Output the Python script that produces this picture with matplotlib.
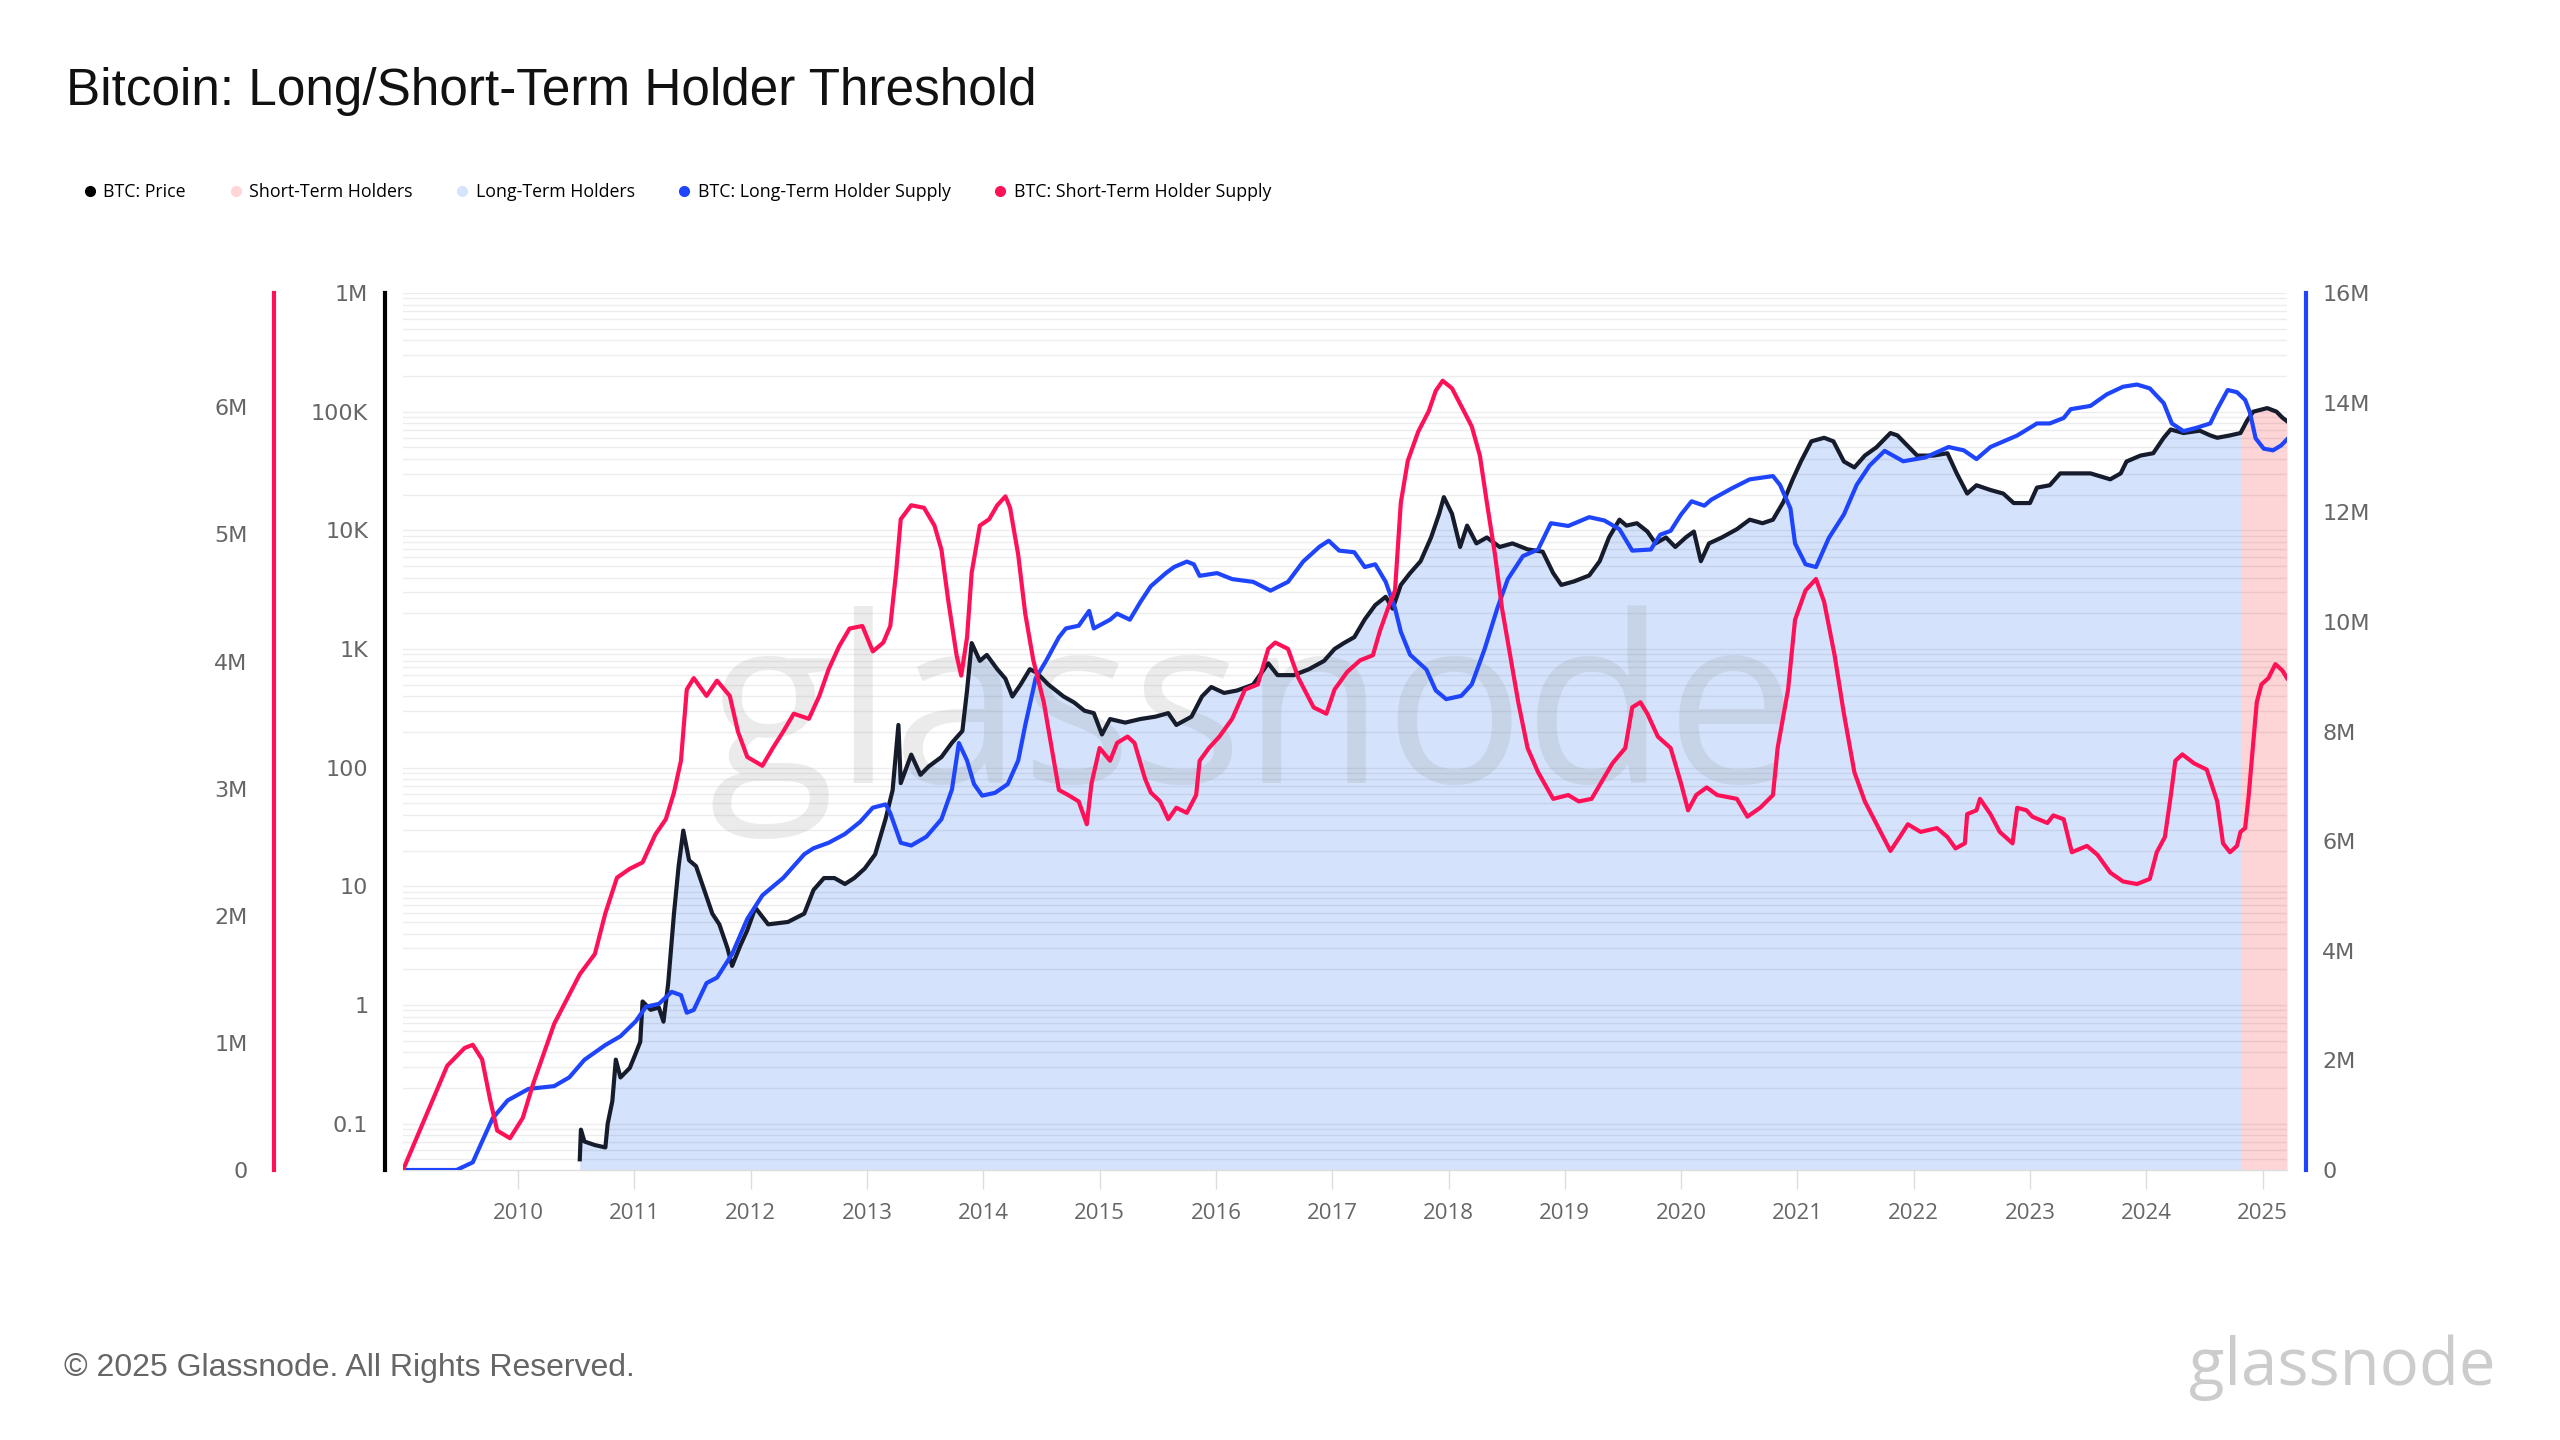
import numpy as np
from matplotlib import pyplot as plt
from matplotlib.lines import Line2D
from matplotlib.ticker import FixedLocator, LogLocator, NullFormatter

# ---- data (decimal years) ----
price_years = [
    2010.53, 2010.54, 2010.57, 2010.66, 2010.75, 2010.77, 2010.81, 2010.84, 2010.88, 2010.96,
    2011.01, 2011.05, 2011.07, 2011.14, 2011.21, 2011.25, 2011.29, 2011.34, 2011.38, 2011.42,
    2011.47, 2011.53, 2011.60, 2011.67, 2011.73, 2011.80, 2011.84, 2011.91, 2011.97, 2012.04,
    2012.15, 2012.32, 2012.46, 2012.54, 2012.63, 2012.72, 2012.81, 2012.89, 2012.98, 2013.07,
    2013.16, 2013.22, 2013.27, 2013.29, 2013.38, 2013.46, 2013.53, 2013.64, 2013.73, 2013.82,
    2013.86, 2013.90, 2013.97, 2014.03, 2014.12, 2014.19, 2014.25, 2014.32, 2014.40, 2014.46,
    2014.56, 2014.69, 2014.78, 2014.87, 2014.95, 2015.02, 2015.09, 2015.22, 2015.35, 2015.48,
    2015.59, 2015.66, 2015.79, 2015.88, 2015.96, 2016.07, 2016.18, 2016.32, 2016.45, 2016.53,
    2016.67, 2016.80, 2016.93, 2017.02, 2017.10, 2017.19, 2017.28, 2017.37, 2017.46, 2017.52,
    2017.59, 2017.67, 2017.76, 2017.85, 2017.92, 2017.96, 2018.03, 2018.10, 2018.16, 2018.24,
    2018.33, 2018.44, 2018.55, 2018.68, 2018.81, 2018.90, 2018.97, 2019.08, 2019.21, 2019.30,
    2019.38, 2019.47, 2019.53, 2019.62, 2019.71, 2019.78, 2019.87, 2019.95, 2020.04, 2020.11,
    2020.17, 2020.24, 2020.35, 2020.48, 2020.59, 2020.70, 2020.79, 2020.88, 2020.96, 2021.03,
    2021.12, 2021.23, 2021.31, 2021.40, 2021.49, 2021.58, 2021.68, 2021.80, 2021.86, 2021.96,
    2022.03, 2022.17, 2022.29, 2022.37, 2022.46, 2022.54, 2022.66, 2022.77, 2022.86, 2023.00,
    2023.06, 2023.17, 2023.26, 2023.40, 2023.52, 2023.69, 2023.78, 2023.83, 2023.95, 2024.06,
    2024.15, 2024.21, 2024.32, 2024.46, 2024.55, 2024.61, 2024.72, 2024.81, 2024.87, 2024.92,
    2025.04, 2025.12, 2025.17, 2025.21,
]
price_log = [
    -1.30, -1.05, -1.15, -1.18, -1.20, -1.00, -0.81, -0.46, -0.61, -0.53,
    -0.41, -0.31, 0.03, -0.04, -0.02, -0.14, 0.18, 0.77, 1.17, 1.47,
    1.22, 1.17, 0.97, 0.77, 0.68, 0.48, 0.33, 0.50, 0.63, 0.82,
    0.68, 0.70, 0.77, 0.97, 1.07, 1.07, 1.02, 1.07, 1.15, 1.27,
    1.57, 1.81, 2.36, 1.87, 2.11, 1.94, 2.01, 2.09, 2.21, 2.31,
    2.65, 3.05, 2.90, 2.95, 2.83, 2.75, 2.60, 2.70, 2.83, 2.80,
    2.70, 2.60, 2.55, 2.48, 2.46, 2.28, 2.41, 2.38, 2.41, 2.43,
    2.46, 2.36, 2.43, 2.60, 2.68, 2.63, 2.65, 2.70, 2.88, 2.78,
    2.78, 2.83, 2.90, 3.00, 3.05, 3.10, 3.25, 3.37, 3.44, 3.34,
    3.54, 3.64, 3.74, 3.94, 4.14, 4.28, 4.14, 3.86, 4.04, 3.89,
    3.94, 3.86, 3.89, 3.84, 3.82, 3.64, 3.54, 3.57, 3.62, 3.74,
    3.94, 4.09, 4.04, 4.06, 3.99, 3.89, 3.94, 3.86, 3.94, 3.99,
    3.74, 3.89, 3.94, 4.01, 4.09, 4.06, 4.09, 4.24, 4.43, 4.58,
    4.75, 4.78, 4.75, 4.58, 4.53, 4.63, 4.70, 4.82, 4.80, 4.70,
    4.63, 4.63, 4.65, 4.48, 4.31, 4.38, 4.34, 4.31, 4.23, 4.23,
    4.36, 4.38, 4.48, 4.48, 4.48, 4.43, 4.48, 4.58, 4.63, 4.65,
    4.78, 4.85, 4.82, 4.84, 4.80, 4.78, 4.80, 4.82, 4.93, 5.00,
    5.03, 5.00, 4.95, 4.92,
]

lth_years = [
    2009.01, 2009.47, 2009.61, 2009.69, 2009.78, 2009.91, 2010.09, 2010.31, 2010.44, 2010.57,
    2010.75, 2010.88, 2011.01, 2011.10, 2011.21, 2011.32, 2011.40, 2011.45, 2011.51, 2011.62,
    2011.71, 2011.84, 2011.97, 2012.10, 2012.28, 2012.46, 2012.54, 2012.67, 2012.81, 2012.94,
    2013.05, 2013.16, 2013.20, 2013.29, 2013.38, 2013.51, 2013.64, 2013.73, 2013.79, 2013.86,
    2013.92, 2013.99, 2014.10, 2014.21, 2014.30, 2014.36, 2014.45, 2014.54, 2014.65, 2014.71,
    2014.82, 2014.91, 2014.95, 2015.09, 2015.15, 2015.26, 2015.35, 2015.44, 2015.57, 2015.64,
    2015.75, 2015.81, 2015.86, 2016.01, 2016.14, 2016.32, 2016.47, 2016.62, 2016.75, 2016.89,
    2016.97, 2017.06, 2017.19, 2017.28, 2017.37, 2017.46, 2017.54, 2017.59, 2017.67, 2017.81,
    2017.89, 2017.98, 2018.11, 2018.20, 2018.31, 2018.42, 2018.51, 2018.64, 2018.77, 2018.88,
    2019.03, 2019.21, 2019.34, 2019.47, 2019.58, 2019.74, 2019.82, 2019.91, 2020.00, 2020.09,
    2020.20, 2020.26, 2020.44, 2020.59, 2020.79, 2020.85, 2020.94, 2020.98, 2021.07, 2021.16,
    2021.27, 2021.40, 2021.51, 2021.62, 2021.75, 2021.91, 2022.10, 2022.30, 2022.43, 2022.54,
    2022.66, 2022.89, 2023.06, 2023.17, 2023.29, 2023.35, 2023.52, 2023.66, 2023.80, 2023.92,
    2024.03, 2024.15, 2024.22, 2024.32, 2024.43, 2024.55, 2024.61, 2024.70, 2024.78, 2024.85,
    2024.89, 2024.94, 2025.01, 2025.09, 2025.16, 2025.21,
]
lth_supply = [  # millions of BTC
    0.00, 0.00, 0.14, 0.52, 0.94, 1.27, 1.48, 1.53, 1.69, 2.01,
    2.28, 2.44, 2.71, 2.98, 3.03, 3.25, 3.19, 2.87, 2.92, 3.41,
    3.51, 3.94, 4.58, 5.01, 5.33, 5.76, 5.87, 5.97, 6.13, 6.35,
    6.61, 6.67, 6.51, 5.97, 5.92, 6.08, 6.40, 6.94, 7.79, 7.47,
    7.04, 6.83, 6.88, 7.04, 7.47, 8.11, 8.97, 9.29, 9.72, 9.88,
    9.93, 10.20, 9.88, 10.04, 10.15, 10.04, 10.36, 10.65, 10.89, 11.00,
    11.10, 11.05, 10.84, 10.89, 10.78, 10.73, 10.57, 10.73, 11.10, 11.37,
    11.48, 11.30, 11.27, 11.00, 11.05, 10.73, 10.25, 9.82, 9.40, 9.13,
    8.75, 8.59, 8.65, 8.86, 9.50, 10.25, 10.78, 11.20, 11.32, 11.80,
    11.75, 11.91, 11.85, 11.69, 11.30, 11.32, 11.59, 11.66, 11.96, 12.20,
    12.12, 12.23, 12.44, 12.60, 12.66, 12.50, 12.07, 11.43, 11.05, 11.00,
    11.53, 11.96, 12.50, 12.85, 13.12, 12.93, 13.00, 13.19, 13.13, 12.97,
    13.19, 13.40, 13.62, 13.62, 13.72, 13.88, 13.94, 14.15, 14.29, 14.33,
    14.26, 13.99, 13.62, 13.48, 13.54, 13.62, 13.88, 14.23, 14.19, 14.05,
    13.83, 13.35, 13.16, 13.13, 13.22, 13.33,
]

sth_years = [
    2009.01, 2009.39, 2009.54, 2009.61, 2009.69, 2009.76, 2009.82, 2009.93, 2010.04, 2010.13,
    2010.31, 2010.44, 2010.53, 2010.66, 2010.75, 2010.85, 2010.96, 2011.07, 2011.18, 2011.27,
    2011.34, 2011.40, 2011.45, 2011.51, 2011.62, 2011.71, 2011.82, 2011.89, 2011.97, 2012.10,
    2012.19, 2012.28, 2012.37, 2012.50, 2012.59, 2012.67, 2012.76, 2012.85, 2012.96, 2013.05,
    2013.14, 2013.20, 2013.25, 2013.29, 2013.38, 2013.49, 2013.58, 2013.64, 2013.70, 2013.77,
    2013.81, 2013.86, 2013.90, 2013.97, 2014.05, 2014.12, 2014.19, 2014.23, 2014.30, 2014.36,
    2014.43, 2014.52, 2014.58, 2014.65, 2014.73, 2014.82, 2014.89, 2014.93, 2015.00, 2015.09,
    2015.15, 2015.24, 2015.30, 2015.39, 2015.44, 2015.52, 2015.59, 2015.66, 2015.75, 2015.83,
    2015.86, 2015.94, 2016.03, 2016.14, 2016.25, 2016.36, 2016.45, 2016.51, 2016.62, 2016.71,
    2016.84, 2016.95, 2017.02, 2017.13, 2017.24, 2017.35, 2017.41, 2017.48, 2017.54, 2017.59,
    2017.65, 2017.74, 2017.83, 2017.89, 2017.95, 2018.03, 2018.11, 2018.20, 2018.27, 2018.33,
    2018.40, 2018.46, 2018.53, 2018.60, 2018.68, 2018.77, 2018.90, 2019.03, 2019.12, 2019.23,
    2019.32, 2019.41, 2019.52, 2019.58, 2019.65, 2019.71, 2019.80, 2019.91, 2020.00, 2020.06,
    2020.13, 2020.22, 2020.31, 2020.48, 2020.57, 2020.68, 2020.79, 2020.83, 2020.92, 2020.98,
    2021.07, 2021.16, 2021.23, 2021.32, 2021.40, 2021.49, 2021.58, 2021.71, 2021.80, 2021.88,
    2021.95, 2022.06, 2022.20, 2022.29, 2022.36, 2022.44, 2022.46, 2022.54, 2022.57, 2022.66,
    2022.74, 2022.85, 2022.89, 2022.97, 2023.02, 2023.15, 2023.20, 2023.29, 2023.36, 2023.49,
    2023.58, 2023.69, 2023.80, 2023.92, 2024.03, 2024.09, 2024.16, 2024.21, 2024.25, 2024.31,
    2024.41, 2024.52, 2024.61, 2024.66, 2024.72, 2024.78, 2024.81, 2024.85, 2024.88, 2024.92,
    2024.95, 2024.99, 2025.05, 2025.11, 2025.17, 2025.21,
]
sth_supply = [  # millions of BTC
    0.00, 0.82, 0.96, 0.985, 0.87, 0.55, 0.31, 0.25, 0.41, 0.68,
    1.15, 1.38, 1.54, 1.70, 2.02, 2.30, 2.37, 2.42, 2.64, 2.76,
    2.97, 3.22, 3.78, 3.87, 3.73, 3.85, 3.73, 3.45, 3.25, 3.18,
    3.32, 3.45, 3.59, 3.55, 3.73, 3.94, 4.12, 4.26, 4.28, 4.08,
    4.15, 4.28, 4.70, 5.12, 5.23, 5.21, 5.07, 4.88, 4.47, 4.05,
    3.89, 4.19, 4.70, 5.07, 5.12, 5.23, 5.30, 5.21, 4.84, 4.38,
    4.01, 3.68, 3.36, 2.99, 2.95, 2.90, 2.72, 3.04, 3.32, 3.22,
    3.36, 3.41, 3.36, 3.08, 2.97, 2.90, 2.76, 2.85, 2.81, 2.95,
    3.22, 3.32, 3.41, 3.55, 3.78, 3.82, 4.10, 4.15, 4.10, 3.87,
    3.64, 3.59, 3.78, 3.92, 4.01, 4.05, 4.24, 4.42, 4.56, 5.25,
    5.58, 5.81, 5.97, 6.13, 6.21, 6.15, 6.01, 5.85, 5.62, 5.25,
    4.84, 4.42, 4.05, 3.68, 3.32, 3.13, 2.92, 2.95, 2.90, 2.92,
    3.06, 3.20, 3.32, 3.64, 3.68, 3.59, 3.41, 3.32, 3.04, 2.83,
    2.95, 3.01, 2.95, 2.92, 2.78, 2.85, 2.95, 3.32, 3.78, 4.33,
    4.56, 4.65, 4.47, 4.05, 3.59, 3.13, 2.90, 2.67, 2.51, 2.62,
    2.72, 2.66, 2.69, 2.62, 2.53, 2.57, 2.80, 2.83, 2.92, 2.80,
    2.66, 2.57, 2.85, 2.83, 2.78, 2.73, 2.79, 2.76, 2.50, 2.55,
    2.48, 2.34, 2.27, 2.25, 2.29, 2.50, 2.62, 2.94, 3.22, 3.27,
    3.20, 3.15, 2.90, 2.57, 2.50, 2.55, 2.66, 2.69, 2.94, 3.36,
    3.68, 3.82, 3.87, 3.98, 3.93, 3.87,
]

threshold_year = 2024.81  # switch from long-term to short-term holder shading

price_ticks = [0.1, 1, 10, 100, 1e3, 1e4, 1e5, 1e6]
price_labels = ["0.1", "1", "10", "100", "1K", "10K", "100K", "1M"]
sth_ticks = [0, 1, 2, 3, 4, 5, 6]
lth_ticks = [0, 2, 4, 6, 8, 10, 12, 14, 16]
year_ticks = list(range(2010, 2026))

# ---- style ----
RED = "#ff1158"
BLUE = "#1f45fc"
BLACK = "#161c2c"
FILL_BLUE = "#d4e3fb"
FILL_PINK = "#fdd5d7"
TICKGREY = "#666666"
TICKFONT = "Open Sans"
W, H = 2560, 1440

fig = plt.figure(figsize=(25.6, 14.4), dpi=100)
ax = fig.add_axes([403 / W, 1 - 1170 / H, (2287 - 403) / W, (1170 - 293) / H])

yrs = np.array(price_years)
price = 10 ** np.array(price_log)
ymin = 10 ** -1.39

ax.set_yscale("log")
ax.set_ylim(ymin, 1e6)
ax.set_xlim(2009.01, 2025.21)
ax.fill_between(yrs, ymin, price, where=yrs <= threshold_year, color=FILL_BLUE, lw=0)
ax.fill_between(yrs, ymin, price, where=yrs >= threshold_year, color=FILL_PINK, lw=0)
ax.plot(yrs, price, color=BLACK, lw=3, zorder=3, solid_joinstyle="round")

# grid on all log minor ticks
ax.set_axisbelow(False)
ax.yaxis.set_minor_locator(LogLocator(base=10, subs=np.arange(2, 10), numticks=20))
ax.yaxis.set_minor_formatter(NullFormatter())
ax.grid(which="both", axis="y", color="black", alpha=0.07, lw=1)
ax.yaxis.set_major_locator(FixedLocator(price_ticks))
ax.set_yticklabels(price_labels)
ax.tick_params(axis="y", which="both", length=0, pad=12, labelsize=16,
               labelcolor=TICKGREY)
for lab in ax.get_yticklabels():
    lab.set_fontfamily(TICKFONT)

ax.set_xticks(year_ticks)
ax.set_xticklabels([str(y) for y in year_ticks], fontfamily=TICKFONT)
ax.tick_params(axis="x", length=14, width=1, color="#dddddd", pad=10,
               labelsize=16, labelcolor=TICKGREY)

for side in ("top", "right"):
    ax.spines[side].set_visible(False)
ax.spines["bottom"].set_color("#dddddd")
ax.spines["bottom"].set_linewidth(1)
ax.spines["left"].set_position(("outward", 13))
ax.spines["left"].set_color("black")
ax.spines["left"].set_linewidth(3)

# long-term holder supply, right axis
ax2 = ax.twinx()
ax2.plot(lth_years, np.array(lth_supply) * 1e6, color=BLUE, lw=3, solid_joinstyle="round")
ax2.set_ylim(0, 16e6)
ax2.set_yticks([t * 1e6 for t in lth_ticks])
ax2.set_yticklabels(["0" if t == 0 else f"{t}M" for t in lth_ticks], fontfamily=TICKFONT)
ax2.tick_params(axis="y", length=0, pad=11.5, labelsize=16, labelcolor=TICKGREY)
for side in ("top", "left", "bottom"):
    ax2.spines[side].set_visible(False)
ax2.spines["right"].set_position(("outward", 14))
ax2.spines["right"].set_color(BLUE)
ax2.spines["right"].set_linewidth(3)

# short-term holder supply, far-left axis
ax3 = ax.twinx()
ax3.plot(sth_years, np.array(sth_supply) * 1e6, color=RED, lw=3, solid_joinstyle="round")
ax3.set_ylim(0, 6.9e6)
ax3.yaxis.tick_left()
ax3.set_yticks([t * 1e6 for t in sth_ticks])
ax3.set_yticklabels(["0" if t == 0 else f"{t}M" for t in sth_ticks], fontfamily=TICKFONT)
ax3.tick_params(axis="y", length=0, pad=19, labelsize=16, labelcolor=TICKGREY)
for side in ("top", "right", "bottom"):
    ax3.spines[side].set_visible(False)
ax3.spines["left"].set_visible(True)
ax3.spines["left"].set_position(("outward", 93))
ax3.spines["left"].set_color(RED)
ax3.spines["left"].set_linewidth(3)

# watermark
ax.text(0.451, 0.51, "glassnode", transform=ax.transAxes, ha="center", va="center",
        fontsize=167, fontfamily="Open Sans", color="#888888", alpha=0.16, zorder=2.6)

# title, legend, footer
fig.text(66 / W, 1 - 105 / H, "Bitcoin: Long/Short-Term Holder Threshold",
         fontsize=36.9, fontfamily="Liberation Sans", color="#111111", va="baseline")

handles = [
    Line2D([], [], ls="", marker="o", markersize=7, color="black", label="BTC: Price"),
    Line2D([], [], ls="", marker="o", markersize=7, color="#ffd6d6", label="Short-Term Holders"),
    Line2D([], [], ls="", marker="o", markersize=7, color="#d6e4fb", label="Long-Term Holders"),
    Line2D([], [], ls="", marker="o", markersize=7, color=BLUE,
           label="BTC: Long-Term Holder Supply"),
    Line2D([], [], ls="", marker="o", markersize=7, color=RED,
           label="BTC: Short-Term Holder Supply"),
]
fig.legend(handles=handles, loc="center left", bbox_to_anchor=(74 / W, 1 - 192 / H),
           ncol=5, frameon=False, handlelength=0.8, handletextpad=0.35,
           columnspacing=2.4, borderpad=0, prop={"family": "Open Sans", "size": 12.8})

fig.text(64 / W, 1 - 1376 / H, "© 2025 Glassnode. All Rights Reserved.",
         fontsize=23, fontfamily="Liberation Sans", color="#666666", va="baseline")
fig.text(2496 / W, 1 - 1385 / H, "glassnode", fontsize=47, fontfamily="Open Sans",
         color="#cccccc", ha="right", va="baseline")

fig.savefig("out.png", dpi=100, facecolor="white")
